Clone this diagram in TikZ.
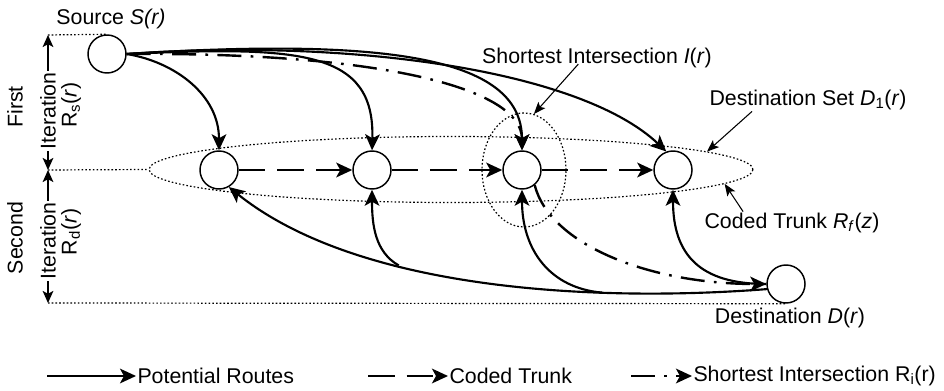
\documentclass[tikz,border=0pt]{standalone}
\usepackage{fontspec}
\setmainfont{Liberation Sans}
\usetikzlibrary{arrows.meta,shapes.geometric}

\tikzset{every picture/.style={line width=0.75pt}}
\tikzset{
  site/.style={draw, circle, fill=white, minimum size=28.5pt, inner sep=0pt, line width=1.1pt},
  zone/.style={draw, ellipse, inner sep=0pt, line width=0.9pt, dash pattern=on 1.2pt off 1.6pt},
  lbl/.style={inner sep=0.75pt, font=\fontsize{16}{19}\selectfont},
  bighead/.style={-{Stealth[length=12pt,width=11pt,inset=3pt]}},
  route/.style={bighead, line width=1.6pt},
  trunk/.style={bighead, line width=1.8pt, dash pattern=on 20pt off 9pt},
  shortcut/.style={bighead, line width=1.8pt, dash pattern=on 18pt off 7pt on 2pt off 7pt},
  pointer/.style={-{Stealth[length=9pt,width=7pt,inset=2pt]}, line width=0.8pt},
  axisarrow/.style={-{Stealth[length=9pt,width=8pt,inset=2pt]}, line width=1pt},
  guide/.style={line width=0.9pt, dash pattern=on 1.2pt off 1.6pt}
}

\begin{document}
\begin{tikzpicture}[x=0.75pt,y=0.75pt,yscale=-1,xscale=1]
\useasboundingbox (0,0) rectangle (944,391);

%Destination set and shortest intersection
\node[zone, minimum width=453pt, minimum height=49.5pt] (dset) at (451,169.5) {};
\node[zone, minimum width=63pt, minimum height=85.5pt] (isect) at (524,170) {};

%Sites
\node[site] (src) at (107,54) {};
\node[site] (m1) at (219,170) {};
\node[site] (m2) at (372,170) {};
\node[site] (m3) at (522,170) {};
\node[site] (m4) at (673,170) {};
\node[site] (dst) at (786,284) {};

%First iteration: routes from the source
\draw[route] (src.east) .. controls (175,62) and (219,95) .. (m1.north);
\draw[route] (src.east) .. controls (300,46) and (375,50) .. (m2.north);
\draw[route] (src.east) .. controls (380,38) and (522,55) .. (m3.north);
\draw[route] (src.east) .. controls (350,38) and (580,70) .. (m4.110);
\draw[shortcut] (src.east) .. controls (380,52) and (522,88) .. (m3.north);

%Coded trunk
\draw[trunk] (m1) -- (m2);
\draw[trunk] (m2) -- (m3);
\draw[trunk] (m3) -- (m4);

%Second iteration: routes from the destination
\draw[route] (dst.195) .. controls (600,302) and (360,292) .. (m1.-60) coordinate[pos=0.3] (j3) coordinate[pos=0.65] (j2);
\draw[route] (j2) .. controls (375,252) and (372,225) .. (m2.south);
\draw[route] (j3) .. controls (550,288) and (522,250) .. (m3.south);
\draw[route] (dst.west) .. controls (700,284) and (673,255) .. (m4.south);
\draw[shortcut] (m3.-50) .. controls (550,245) and (650,284) .. (dst.west);

% Text Node
\node[lbl] (lblS) at (111,19) {Source \textit{S(r)}};
\node[lbl] (lblDst) at (790,318) {Destination \textit{D}(\textit{r})};
\node[lbl] (lblI) at (597,58) {Shortest Intersection \textit{I}(\textit{r})};
\node[lbl] (lblD1) at (808,100) {Destination Set \textit{D}\textsubscript{1}(\textit{r})};
\node[lbl] (lblRt) at (792,223) {Coded Trunk \textit{R}\textsubscript{\textit{f}}(\textit{z})};

%Pointers
\draw[pointer] ([xshift=-14pt,yshift=-4pt]lblI.south) -- (isect.80);
\draw[pointer] ([xshift=33pt]lblD1.south west) -- (dset.4);
\draw[pointer] ([xshift=30pt]lblRt.north west) -- (dset.-3);

%Iteration axis
\coordinate (axTop) at (48,35);
\coordinate (axMid) at (48,170);
\coordinate (axBot) at (48,303);
\node[lbl, rotate=90] (first) at (15,107) {First};
\node[lbl, rotate=90] (iter1) at (48,111) {Iteration};
\node[lbl, rotate=90] (rs) at (71,105) {R\textsubscript{s}(\textit{r})};
\node[lbl, rotate=90] (second) at (15,238) {Second};
\node[lbl, rotate=90] (iter2) at (48,241) {Iteration};
\node[lbl, rotate=90] (rd) at (71,232) {R\textsubscript{d}(\textit{r})};
\draw[axisarrow] (iter1.east) -- (axTop);
\draw[axisarrow] (iter1.west) -- (axMid);
\draw[axisarrow] (iter2.east) -- (axMid);
\draw[axisarrow] (iter2.west) -- (axBot);
\draw[guide] (axTop) -- (src.north);
\draw[guide] (axMid) -- (dset.west);
\draw[guide] (axBot) -- (dst.south);

%Legend
\coordinate (legA) at (47,376);
\coordinate (legB) at (368,376);
\coordinate (legC) at (631,376);
\node[lbl, anchor=west] (legRoute) at (136,376) {Potential Routes};
\node[lbl, anchor=west] (legTrunk) at (448,376) {Coded Trunk};
\node[lbl, anchor=west] (legShort) at (692,376) {Shortest Intersection R\textsubscript{i}(r)};
\draw[route] (legA) -- (legRoute.west);
\draw[trunk] (legB) -- (legTrunk.west);
\draw[shortcut] (legC) -- (legShort.west);

\end{tikzpicture}
\end{document}
